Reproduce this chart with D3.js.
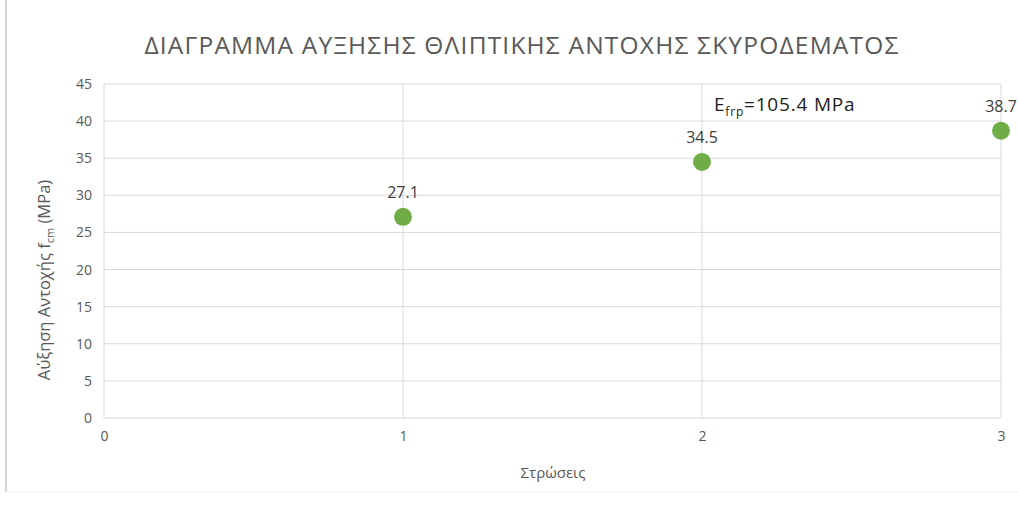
<!DOCTYPE html>
<html>
<head>
<meta charset="utf-8">
<script src="https://cdn.jsdelivr.net/npm/d3@7"></script>
<style>
  body { margin: 0; background: #fff; }
  text { font-family: "Open Sans", "DejaVu Sans", sans-serif; }
</style>
</head>
<body>
<div id="chart"></div>
<script>
// data
var layers = [1, 2, 3];
var strength = [27.1, 34.5, 38.7];
var xTicks = [0, 1, 2, 3];
var yTicks = [0, 5, 10, 15, 20, 25, 30, 35, 40, 45];

var W = 1018, H = 505;
var margin = {top: 84, right: 17, bottom: 87, left: 104},
    width = W - margin.left - margin.right,
    height = H - margin.top - margin.bottom;

var root = d3.select("#chart").append("svg")
    .attr("width", W).attr("height", H);

// outer chart frame (left edge visible in reference)
root.append("line")
    .attr("x1", 6).attr("x2", 6).attr("y1", 0).attr("y2", 492)
    .attr("stroke", "#d4d4d4").attr("stroke-width", 2);
root.append("line")
    .attr("x1", 6).attr("x2", W).attr("y1", 492).attr("y2", 492)
    .attr("stroke", "#eeeeee").attr("stroke-width", 1);

var svg = root.append("g")
    .attr("transform", "translate(" + margin.left + "," + margin.top + ")");

var x = d3.scaleLinear().domain([0, 3]).range([0, width]);
var y = d3.scaleLinear().domain([0, 45]).range([height, 0]);

// gridlines
svg.append("g")
  .selectAll("line")
  .data(yTicks)
  .enter().append("line")
    .attr("x1", 0).attr("x2", width)
    .attr("y1", function(d) { return y(d); })
    .attr("y2", function(d) { return y(d); })
    .attr("stroke", "#d9d9d9").attr("stroke-width", 1);

svg.append("g")
  .selectAll("line")
  .data(xTicks)
  .enter().append("line")
    .attr("y1", 0).attr("y2", height)
    .attr("x1", function(d) { return x(d); })
    .attr("x2", function(d) { return x(d); })
    .attr("stroke", "#d9d9d9").attr("stroke-width", 1);

// axes
var yAxis = svg.append("g")
    .call(d3.axisLeft(y).tickValues(yTicks).tickSize(0).tickPadding(12));
yAxis.select(".domain").remove();
yAxis.selectAll("text").style("font-size", "14px").attr("fill", "#595959");

var xAxis = svg.append("g")
    .attr("transform", "translate(0," + height + ")")
    .call(d3.axisBottom(x).tickValues(xTicks).tickSize(0).tickPadding(13).tickFormat(d3.format("d")));
xAxis.select(".domain").remove();
xAxis.selectAll("text").style("font-size", "14px").attr("fill", "#595959");

// points
svg.selectAll(".pt")
  .data(layers)
  .enter().append("circle")
    .attr("class", "pt")
    .attr("cx", function(d) { return x(d); })
    .attr("cy", function(d, i) { return y(strength[i]); })
    .attr("r", 9)
    .attr("fill", "#70ad47");

// data labels
svg.selectAll(".lbl")
  .data(layers)
  .enter().append("text")
    .attr("class", "lbl")
    .attr("x", function(d) { return x(d); })
    .attr("y", function(d, i) { return y(strength[i]) - 19; })
    .attr("text-anchor", "middle")
    .style("font-size", "16px")
    .attr("fill", "#404040")
    .text(function(d, i) { return strength[i]; });

// annotation
var note = svg.append("text")
    .attr("x", x(2) + 12)
    .attr("y", y(40) - 10)
    .style("font-size", "19px")
    .style("letter-spacing", "0.8px")
    .attr("fill", "#222");
note.append("tspan").text("E");
note.append("tspan").attr("dy", 5).style("font-size", "12px").text("frp");
note.append("tspan").attr("dy", -5).text("=105.4 MPa");

// title
root.append("text")
    .attr("x", 522).attr("y", 54)
    .attr("text-anchor", "middle")
    .style("font-size", "24.5px")
    .style("letter-spacing", "1.2px")
    .attr("fill", "#595959")
    .text("ΔΙΑΓΡΑΜΜΑ ΑΥΞΗΣΗΣ ΘΛΙΠΤΙΚΗΣ ΑΝΤΟΧΗΣ ΣΚΥΡΟΔΕΜΑΤΟΣ");

// x label
root.append("text")
    .attr("x", 553).attr("y", 478)
    .attr("text-anchor", "middle")
    .style("font-size", "15px")
    .attr("fill", "#595959")
    .text("Στρώσεις");

// y label
var yl = root.append("text")
    .attr("transform", "translate(50,280) rotate(-90)")
    .attr("text-anchor", "middle")
    .style("font-size", "16.5px")
    .attr("fill", "#595959");
yl.append("tspan").text("Αύξηση Αντοχής f");
yl.append("tspan").attr("dy", 4).style("font-size", "11px").text("cm");
yl.append("tspan").attr("dy", -4).text(" (MPa)");
</script>
</body>
</html>
